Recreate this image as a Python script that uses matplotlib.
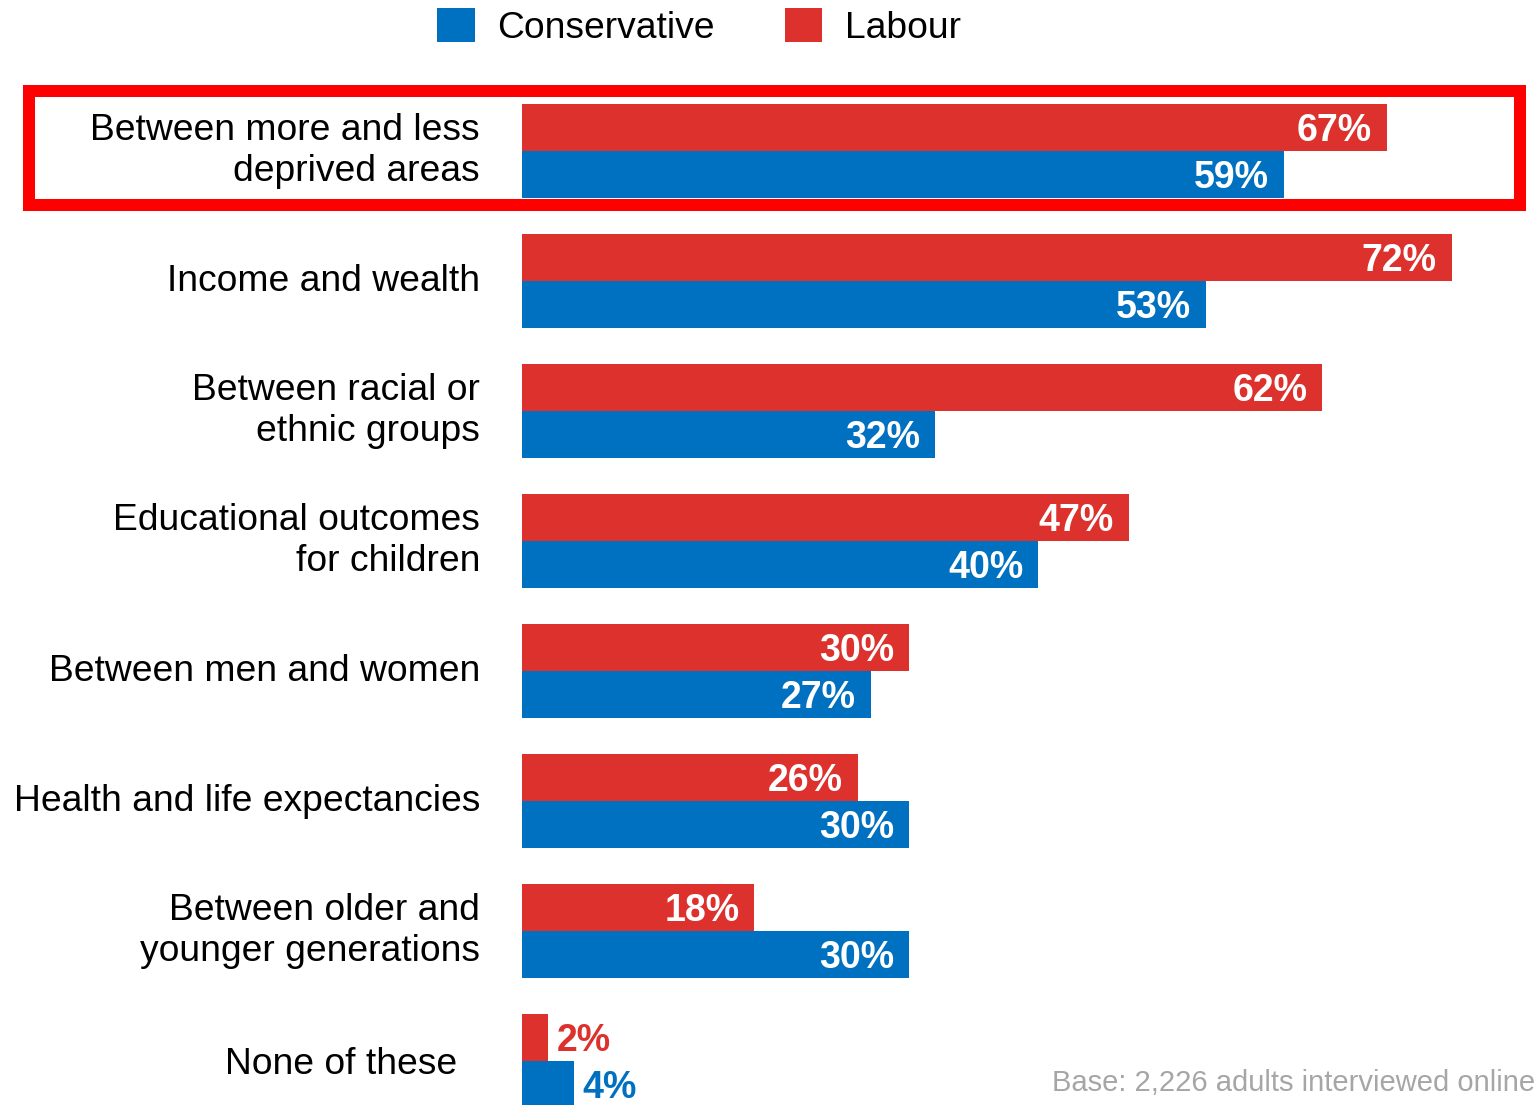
import matplotlib
matplotlib.use("Agg")
import matplotlib.pyplot as plt
from matplotlib.patches import Rectangle, Patch

plt.rcParams['font.family'] = ['Liberation Sans', 'DejaVu Sans']

categories = [
    "Between more and less\ndeprived areas",
    "Income and wealth",
    "Between racial or\nethnic groups",
    "Educational outcomes\nfor children",
    "Between men and women",
    "Health and life expectancies",
    "Between older and\nyounger generations",
    "None of these",
]
labour = [67, 72, 62, 47, 30, 26, 18, 2]
conservative = [59, 53, 32, 40, 27, 30, 30, 4]
series_names = ["Conservative", "Labour"]

RED = "#DC312D"
BLUE = "#0070C0"

W, H = 1534, 1105
fig = plt.figure(figsize=(W / 100, H / 100), dpi=100)
ax = fig.add_axes([522 / W, 0, 1 - 522 / W, 1])

h = 47 / 130
ys = list(range(len(categories)))
ax.barh([y - h / 2 for y in ys], labour, height=h, color=RED, edgecolor='none')
ax.barh([y + h / 2 for y in ys], conservative, height=h, color=BLUE, edgecolor='none')

ax.set_xlim(0, 78.39)
ax.set_ylim((H - 151) / 130, -151 / 130)
ax.axis('off')

px = 0.72  # points per pixel
for i, (lv, cv) in enumerate(zip(labour, conservative)):
    for val, yy, col in ((lv, i - h / 2, RED), (cv, i + h / 2, BLUE)):
        if val >= 10:
            ax.annotate(f"{val}%", xy=(val, yy), xytext=(-15 * px, -3.5 * px),
                        textcoords='offset points', ha='right', va='center',
                        color='white', fontsize=27, fontweight='bold')
        else:
            ax.annotate(f"{val}%", xy=(val, yy), xytext=(9 * px, -3.5 * px),
                        textcoords='offset points', ha='left', va='center',
                        color=col, fontsize=27, fontweight='bold')

for i, cat in enumerate(categories):
    dx = -42 if i < len(categories) - 1 else -65
    dy = 0 if i < len(categories) - 1 else -3
    ax.annotate(cat, xy=(0, i), xycoords=('data', 'data'),
                xytext=(dx * px, dy * px), textcoords='offset points',
                ha='right', va='center', fontsize=26.8, color='black',
                linespacing=1.24, annotation_clip=False)

# highlight box around first category
fig.patches.append(Rectangle((29 / W, 1 - 205 / H), (1520 - 29) / W, (205 - 91) / H,
                             transform=fig.transFigure, fill=False,
                             edgecolor='#FF0000', linewidth=12 * px))

handles = [Patch(facecolor=BLUE, edgecolor='none'), Patch(facecolor=RED, edgecolor='none')]
fig.legend(handles, series_names, loc='center', bbox_to_anchor=(699 / W, 1 - 27 / H),
           ncol=2, frameon=False, fontsize=26.8, handlelength=1.0, handleheight=1.0,
           handletextpad=0.6, columnspacing=1.9, borderpad=0, borderaxespad=0)

fig.text(1052 / W, 1 - 1083 / H, "Base: 2,226 adults interviewed online",
         ha='left', va='center', color='#A6A6A6', fontsize=21)

fig.savefig("out.png", dpi=100)
